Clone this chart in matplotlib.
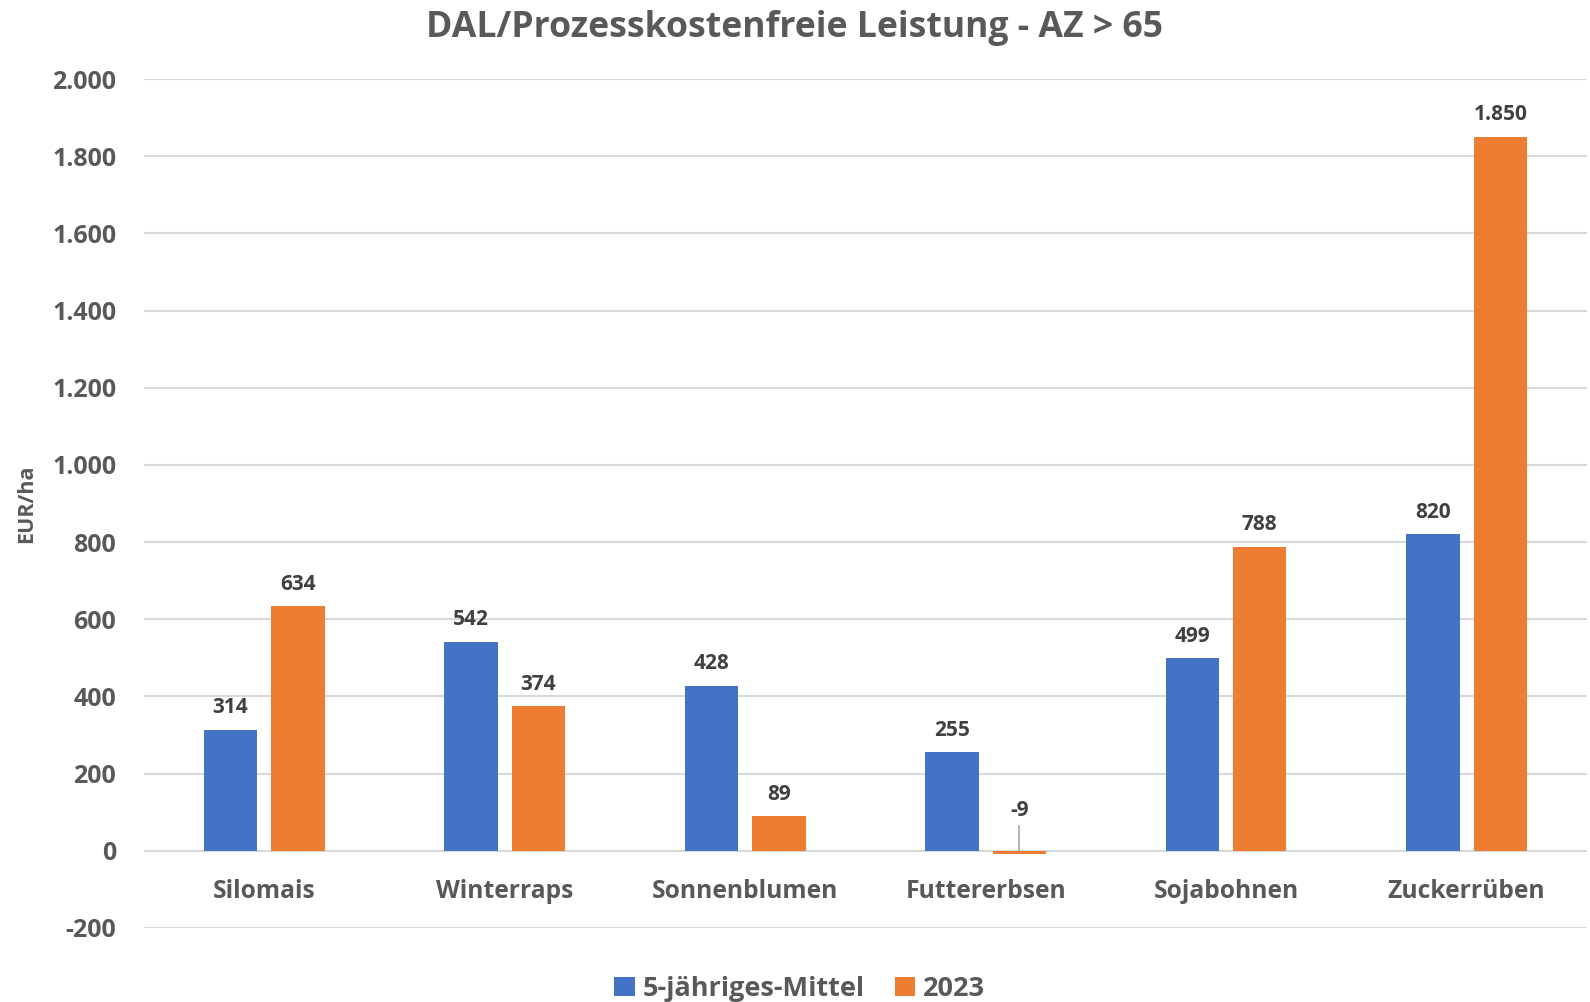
import matplotlib
matplotlib.use("Agg")
import matplotlib.pyplot as plt
import numpy as np
from matplotlib.ticker import FuncFormatter

plt.rcParams['font.family'] = ['Open Sans', 'DejaVu Sans']

categories = ["Silomais", "Winterraps", "Sonnenblumen", "Futtererbsen", "Sojabohnen", "Zuckerrüben"]
mittel = [314, 542, 428, 255, 499, 820]
y2023 = [634, 374, 89, -9, 788, 1850]
series_names = ["5-jähriges-Mittel", "2023"]
title = "DAL/Prozesskostenfreie Leistung - AZ > 65"
ylabel = "EUR/ha"

blue = "#4472C4"
orange = "#ED7D31"
gray = "#595959"
dark = "#404040"

fig = plt.figure(figsize=(15.9, 10.02), dpi=100)
ax = fig.add_axes([0.0906, 0.0739, 0.9074, 0.8471])

x = np.arange(len(categories))
w = 0.222
off = 0.14
b1 = ax.bar(x - off, mittel, w, color=blue, label=series_names[0], zorder=3)
b2 = ax.bar(x + off, y2023, w, color=orange, label=series_names[1], zorder=3)

ax.set_xlim(-0.5, len(categories) - 0.5)
ax.set_ylim(-200, 2000)
ax.set_yticks(np.arange(-200, 2001, 200))

def fmt(v, pos=None):
    s = f"{int(round(v)):,}".replace(",", ".")
    return s
ax.yaxis.set_major_formatter(FuncFormatter(fmt))
ax.grid(axis='y', color="#D9D9D9", linewidth=1.5, zorder=0)
for sp in ax.spines.values():
    sp.set_visible(False)
ax.tick_params(axis='both', length=0)
ax.tick_params(axis='y', labelsize=18, labelcolor=gray, pad=20)
ax.set_xticks(x)
ax.set_xticklabels([])
for i, c in enumerate(categories):
    ax.text(i, -105, c, ha='center', va='center', fontsize=17.7, color=gray, fontweight='bold')
for lab in ax.get_yticklabels():
    lab.set_fontweight('bold')

for bars, vals in ((b1, mittel), (b2, y2023)):
    for rect, v in zip(bars, vals):
        cx = rect.get_x() + rect.get_width() / 2
        if v >= 0:
            ax.text(cx, v + 30, fmt(v), ha='center', va='bottom', fontsize=15,
                    color=dark, fontweight='bold', zorder=4)
        else:
            ax.text(cx, v + 86, fmt(v), ha='center', va='bottom', fontsize=15,
                    color=dark, fontweight='bold', zorder=4)
            ax.plot([cx, cx], [v + 8, v + 72], color="#A6A6A6", linewidth=1.2, zorder=4)

ax.set_ylabel(ylabel, fontsize=15.5, color=gray, fontweight='bold')
ax.yaxis.set_label_coords(-0.074, 0.5)

fig.text(0.5, 0.972, title, ha='center', va='center', fontsize=25.7, color=gray, fontweight='bold')

leg = fig.legend(handles=[b1, b2], labels=series_names, loc='center', bbox_to_anchor=(0.503, 0.013),
                 ncol=2, frameon=False, fontsize=19.5, handlelength=0.75, handleheight=0.75,
                 handletextpad=0.3, columnspacing=1.1)
for t in leg.get_texts():
    t.set_color(gray)
    t.set_fontweight('bold')

fig.savefig("out.png", dpi=100)
